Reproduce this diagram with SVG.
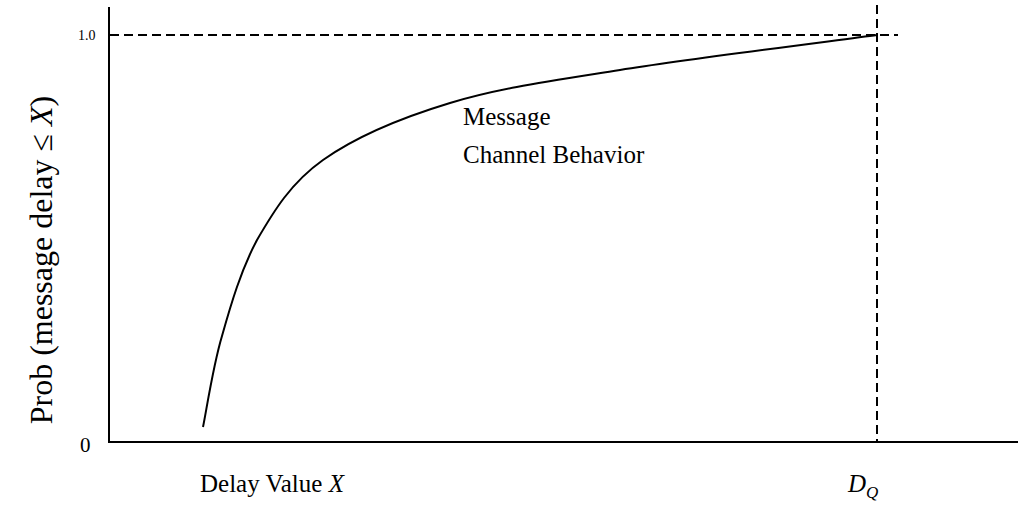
<svg xmlns="http://www.w3.org/2000/svg" width="1018" height="516" viewBox="0 0 1018 516">
<style>
.t{font-family:"Liberation Serif","Times New Roman",serif;fill:#000}
.ax{stroke:#000;stroke-width:2;fill:none}
.ds{stroke:#000;stroke-width:2;fill:none;stroke-dasharray:9,5}
</style>
<rect width="1018" height="516" fill="#fff"/>
<g id="axes">
<line class="ax" x1="109" y1="7" x2="109" y2="443"/>
<line class="ax" x1="108" y1="442" x2="1018" y2="442"/>
</g>
<g id="guides">
<line class="ds" x1="110" y1="35" x2="898" y2="35"/>
<line class="ds" x1="877" y1="5" x2="877" y2="441"/>
</g>
<g id="curve">
<path class="ax" d="M203,427 C206.3,411.3 213,366 222,336 C231,304 241,270 257,240 C273.7,211.2 290.8,182.8 323,160 C355.2,137.2 400.5,118 450,103 C499.5,88 548.8,81.3 620,70 C691.2,58.7 834.2,40.8 877,35"/>
</g>
<g id="labels">
<text class="t" x="78" y="40" font-size="14">1.0</text>
<text class="t" x="80" y="452" font-size="21">0</text>
<text class="t" x="463" y="125" font-size="25">Message</text>
<text class="t" x="463" y="163" font-size="25">Channel Behavior</text>
<text class="t" x="200" y="492" font-size="25">Delay Value <tspan font-style="italic">X</tspan></text>
<text class="t" x="848" y="492" font-size="25" font-style="italic">D<tspan font-size="17" dy="6">Q</tspan></text>
<text class="t" font-size="32" text-anchor="middle" transform="translate(52,260) rotate(-90)">Prob (message delay ≤ <tspan font-style="italic">X</tspan>)</text>
</g>
</svg>
